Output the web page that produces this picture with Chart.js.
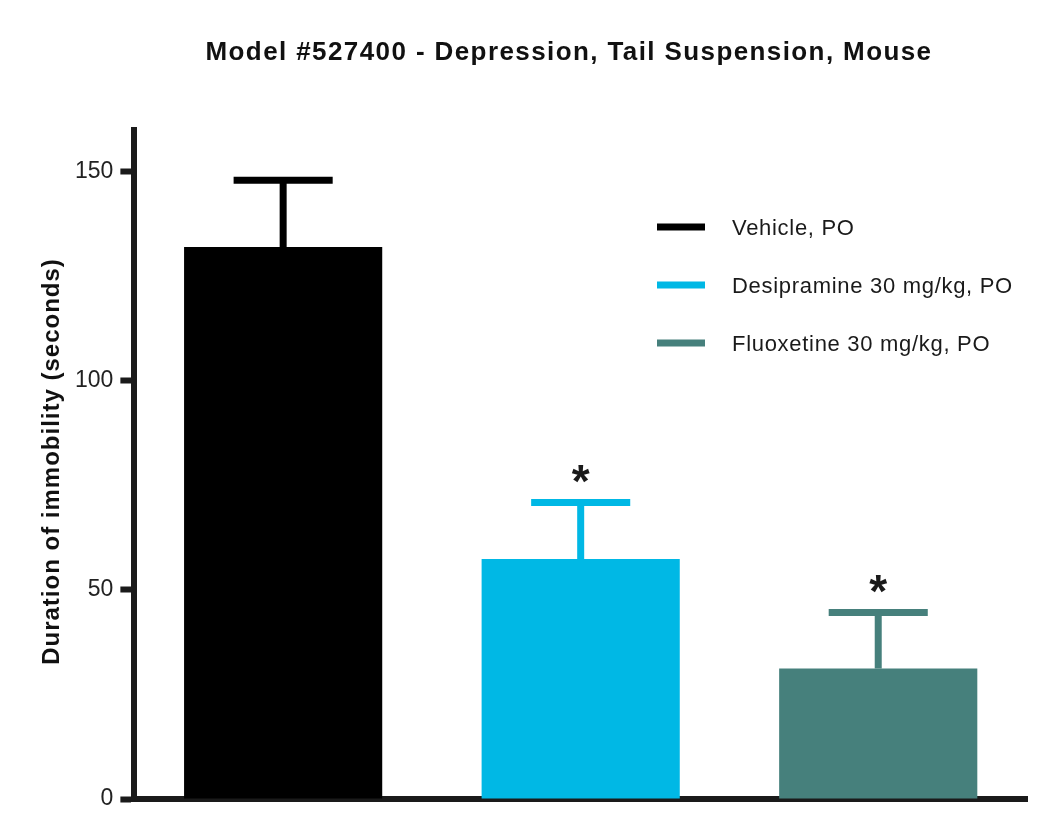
<!DOCTYPE html>
<html>
<head>
<meta charset="utf-8">
<title>Model #527400 - Depression, Tail Suspension, Mouse</title>
<script src="https://cdn.jsdelivr.net/npm/chart.js@4/dist/chart.umd.min.js"></script>
<style>
    html, body { margin: 0; padding: 0; background: #fff; }
    .chart-container { width: 1050px; height: 830px; position: relative; }
</style>
</head>
<body>
<div class="chart-container"><canvas id="mainChart"></canvas></div>
<script>
// Data
const groups = ['Vehicle, PO', 'Desipramine 30 mg/kg, PO', 'Fluoxetine 30 mg/kg, PO'];
const means = [132, 57.4, 31.2];
const sems = [16, 13.5, 13.4];
const significant = [false, true, true];
const colors = ['#000000', '#00b8e5', '#46807c'];
const yTicks = [0, 50, 100, 150];

const titleText = 'Model #527400 - Depression, Tail Suspension, Mouse';
const yTitleText = 'Duration of immobility (seconds)';
const FONT = '"Liberation Sans", Arial, Helvetica, sans-serif';
const AXIS_COLOR = '#1a1a1a';

let chart = null;

// Error bars (upper only) and significance stars
const errorBarPlugin = {
    id: 'errorBars',
    afterDatasetsDraw(chart) {
        const ctx = chart.ctx;
        const y = chart.scales.y;
        chart.data.datasets.forEach((ds, i) => {
            const bar = chart.getDatasetMeta(i).data[0];
            if (!bar) return;
            const capY = y.getPixelForValue(means[i] + sems[i]);
            const half = bar.width / 4;
            ctx.save();
            ctx.strokeStyle = colors[i];
            ctx.lineWidth = 7;
            ctx.lineCap = 'butt';
            ctx.beginPath();
            ctx.moveTo(bar.x, bar.y);
            ctx.lineTo(bar.x, capY);
            ctx.moveTo(bar.x - half, capY);
            ctx.lineTo(bar.x + half, capY);
            ctx.stroke();
            if (significant[i]) {
                ctx.fillStyle = '#1a1a1a';
                ctx.font = 'bold 46px ' + FONT;
                ctx.textAlign = 'center';
                ctx.textBaseline = 'alphabetic';
                ctx.fillText('*', bar.x, capY - 6);
            }
            ctx.restore();
        });
    }
};

// Title, rotated y title and the line-style legend
const textPlugin = {
    id: 'texts',
    afterDraw(chart) {
        const ctx = chart.ctx;
        const area = chart.chartArea;

        ctx.save();
        ctx.fillStyle = '#111';
        ctx.textBaseline = 'alphabetic';

        // main title
        ctx.font = 'bold 26px ' + FONT;
        ctx.letterSpacing = '1.4px';
        ctx.textAlign = 'center';
        ctx.fillText(titleText, 569, 60);

        // y axis title
        ctx.save();
        ctx.translate(59, (area.top + area.bottom) / 2 - 3);
        ctx.rotate(-Math.PI / 2);
        ctx.font = 'bold 24px ' + FONT;
        ctx.letterSpacing = '1px';
        ctx.fillText(yTitleText, 0, 0);
        ctx.restore();

        // legend
        ctx.font = '22px ' + FONT;
        ctx.letterSpacing = '0.7px';
        ctx.textAlign = 'left';
        groups.forEach((g, i) => {
            const rowY = 227 + i * 58;
            ctx.strokeStyle = colors[i];
            ctx.lineWidth = 7;
            ctx.beginPath();
            ctx.moveTo(657, rowY);
            ctx.lineTo(705, rowY);
            ctx.stroke();
            ctx.fillStyle = '#1a1a1a';
            ctx.fillText(g, 732, rowY + 8);
        });
        ctx.restore();
    }
};

function createChart() {
    const ctx = document.getElementById('mainChart').getContext('2d');

    const datasets = groups.map((g, i) => ({
        label: g,
        data: [means[i]],
        backgroundColor: colors[i],
        borderWidth: 0,
        barPercentage: 0.666,
        categoryPercentage: 1.0
    }));

    chart = new Chart(ctx, {
        type: 'bar',
        data: { labels: [''], datasets },
        options: {
            responsive: true,
            maintainAspectRatio: false,
            animation: false,
            layout: {
                padding: { top: 130, left: 68, right: 23, bottom: 23 }
            },
            plugins: {
                legend: { display: false },
                title: { display: false },
                tooltip: { enabled: false }
            },
            scales: {
                x: {
                    grid: { display: false },
                    ticks: { display: false },
                    border: { display: true, color: AXIS_COLOR, width: 6 }
                },
                y: {
                    min: 0,
                    max: 160,
                    afterBuildTicks: axis => {
                        axis.ticks = yTicks.map(v => ({ value: v }));
                    },
                    ticks: {
                        color: '#222',
                        padding: 7,
                        font: { family: FONT, size: 23 }
                    },
                    grid: {
                        drawOnChartArea: false,
                        drawTicks: true,
                        tickLength: 14,
                        tickWidth: 6,
                        tickColor: AXIS_COLOR
                    },
                    border: { display: true, color: AXIS_COLOR, width: 6 }
                }
            }
        },
        plugins: [errorBarPlugin, textPlugin]
    });
}

document.addEventListener('DOMContentLoaded', createChart);
</script>
</body>
</html>
